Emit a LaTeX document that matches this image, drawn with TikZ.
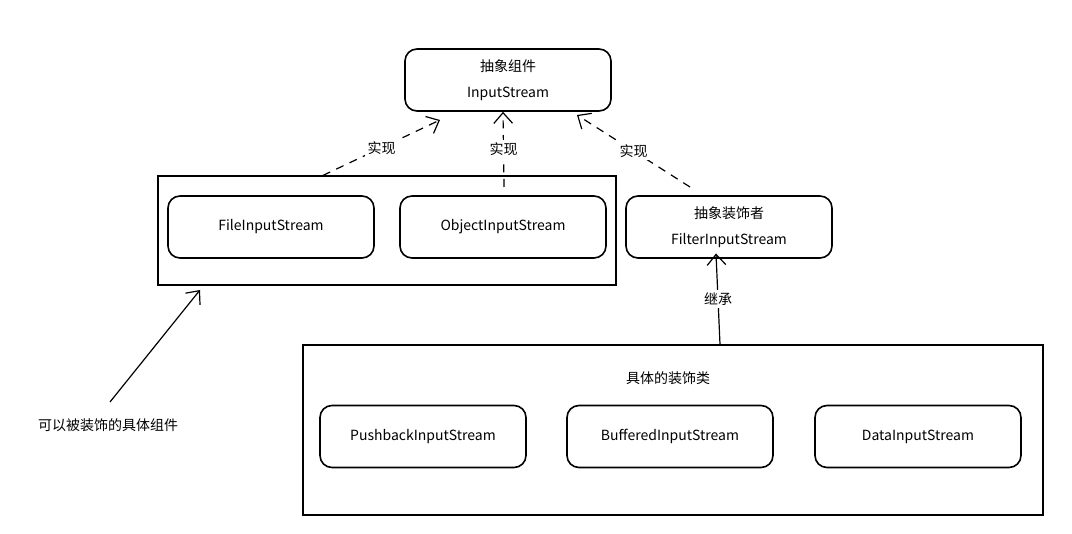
\documentclass[tikz,border=0pt]{standalone}
\usepackage{fontspec}
\setmainfont{Noto Sans CJK SC}
\usetikzlibrary{arrows.meta}

\tikzset{every picture/.style={line width=0.75pt}}
\tikzset{
  roundbox/.style={draw, line width=1.2pt, rounded corners=9pt, minimum width=154.5pt, minimum height=46.5pt, align=center, font=\fontsize{10.5}{19.5}\selectfont},
  groupbox/.style={draw, line width=0.9pt},
  plaintext/.style={font=\fontsize{10.5}{13}\selectfont},
  edgetext/.style={plaintext, fill=white, inner sep=2pt},
  realise/.style={dashed, dash pattern=on 6pt off 5pt, line width=0.9pt, -{Straight Barb[length=8pt,width=14pt,line width=0.9pt]}},
  inherit/.style={line width=0.9pt, -{Straight Barb[length=8pt,width=14pt,line width=0.9pt]}}
}

\begin{document}
\begin{tikzpicture}[x=0.75pt,y=0.75pt,yscale=-1,xscale=1]
  \useasboundingbox (0,0) rectangle (1072,534);

  % top component
  \node[roundbox] (inputstream) at (508,80) {抽象组件\\InputStream};

  % concrete components
  \node[groupbox, minimum width=343.5pt, minimum height=81.75pt] (leftgroup) at (387,230.5) {};
  \node[roundbox] (fileis) at (271,227) {FileInputStream};
  \node[roundbox] (objectis) at (503,227) {ObjectInputStream};

  % decorator
  \node[roundbox] (filteris) at (729,227) {抽象装饰者\\FilterInputStream};

  % concrete decorators
  \node[groupbox, minimum width=555pt, minimum height=127.5pt] (bottomgroup) at (673,430) {};
  \node[plaintext] (decotitle) at (668,378) {具体的装饰类};
  \node[roundbox] (pushbackis) at (423,436.5) {PushbackInputStream};
  \node[roundbox] (bufferedis) at (670,436.5) {BufferedInputStream};
  \node[roundbox] (datais) at (918,436.5) {DataInputStream};

  % side note
  \node[plaintext] (sidenote) at (108,425) {可以被装饰的具体组件};
  \coordinate (notetail) at (110,402);
  \coordinate (notehead) at (200,290);

  % connectors
  \draw[realise] (leftgroup.north -| 323,0) -- (440,120) node[edgetext, midway] {实现};
  \draw[realise] (504,187) -- (inputstream.south -| 503,0) node[edgetext, midway] {实现};
  \draw[realise] (690,187) -- (577,115) node[edgetext, midway] {实现};
  \draw[inherit] (bottomgroup.north -| 720,0) -- ([yshift=-4]filteris.south -| 716,0) node[edgetext, midway] {继承};
  \draw[inherit] (notetail) -- (notehead);

\end{tikzpicture}
\end{document}
